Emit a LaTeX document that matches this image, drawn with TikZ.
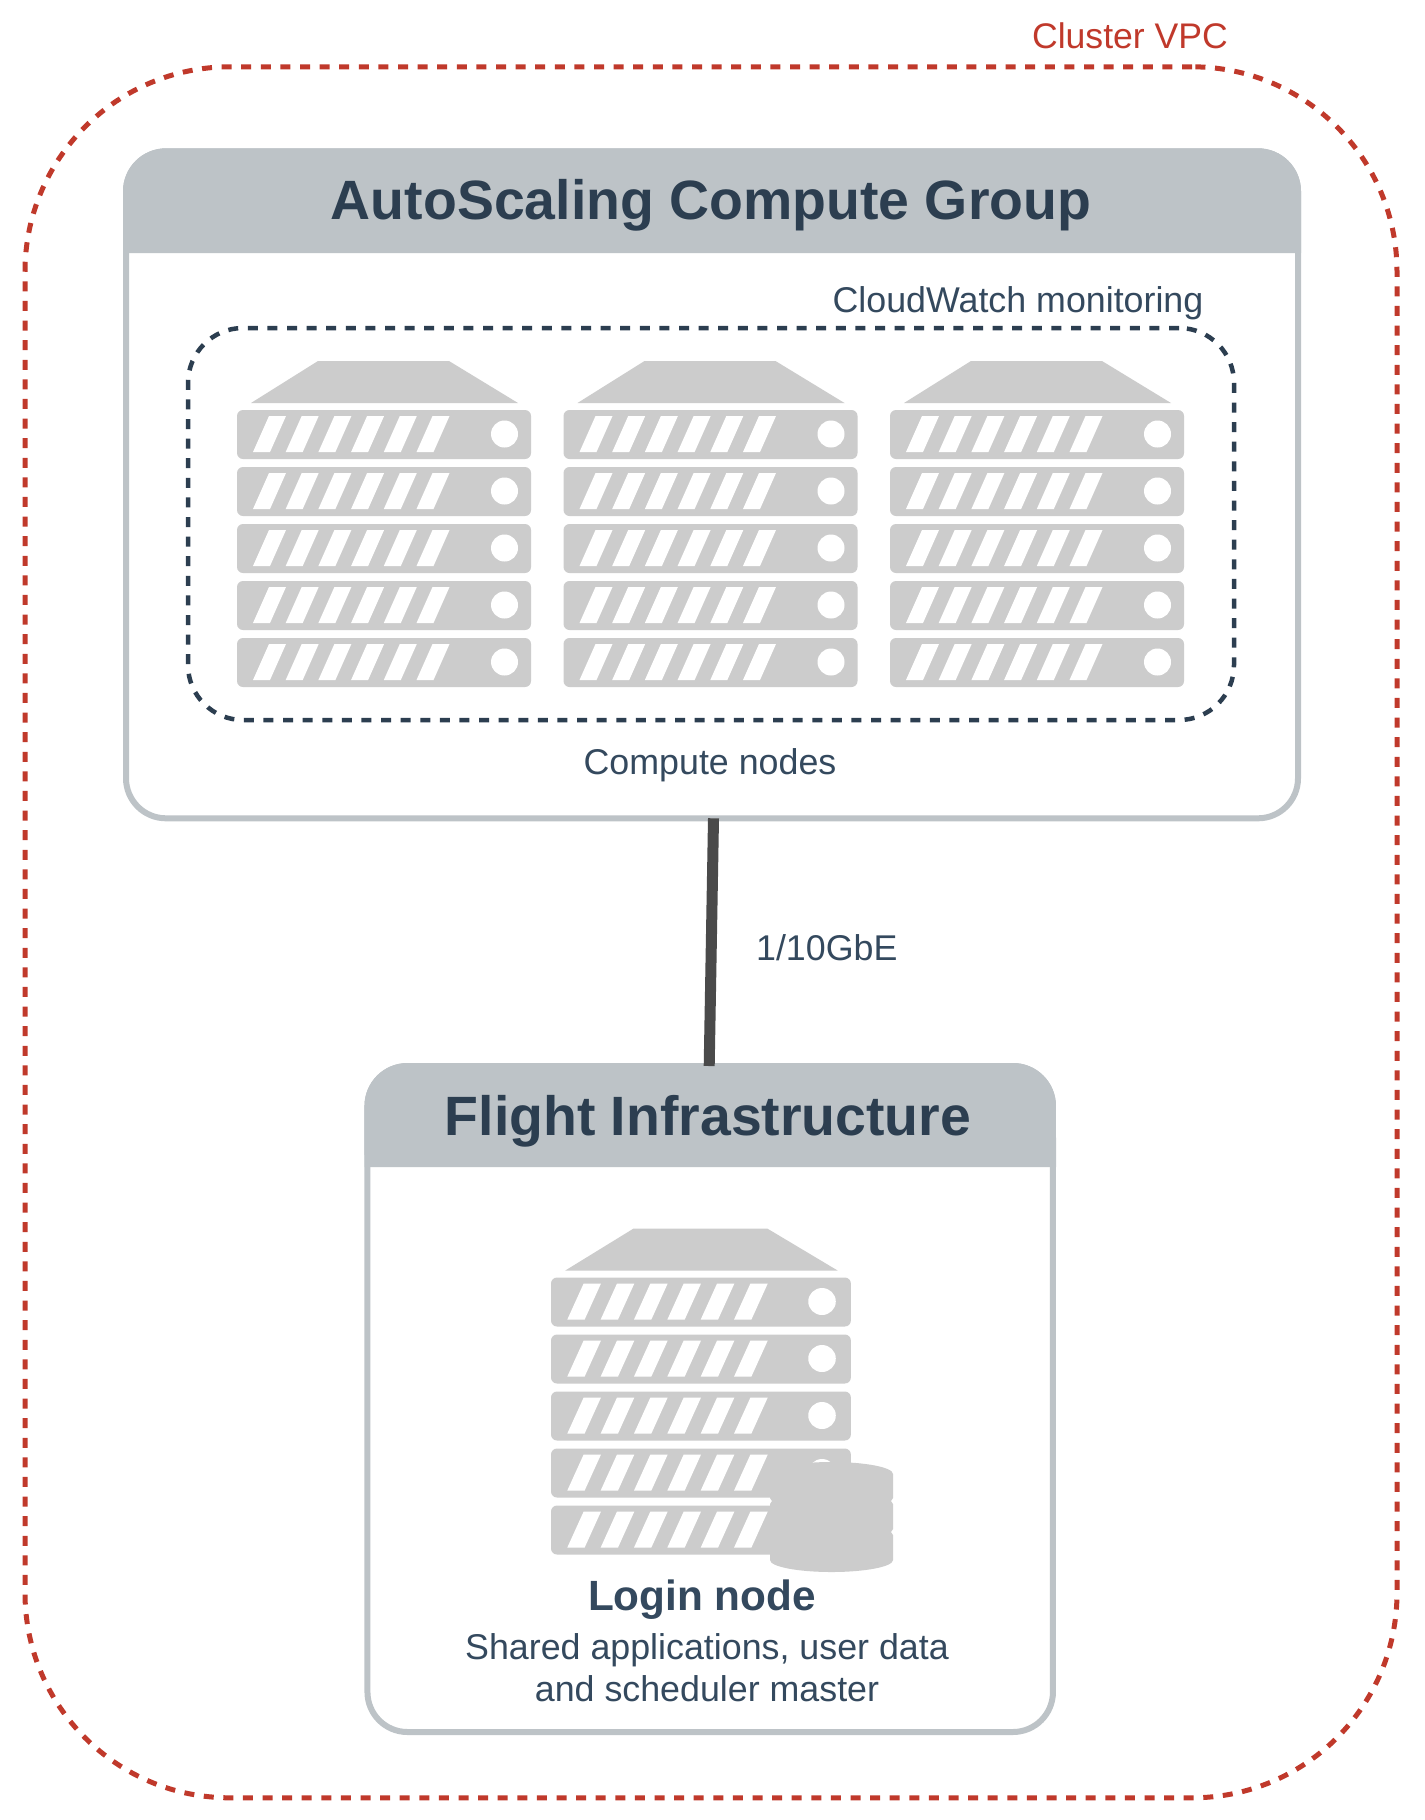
\documentclass[tikz,border=0pt]{standalone}
\usepackage{xcolor}
\usepackage{fontspec}
\setmainfont{Liberation Sans}
\usetikzlibrary{positioning, calc}

\definecolor{ink}{HTML}{2C3E50}
\definecolor{softink}{HTML}{34495E}
\definecolor{vpcred}{HTML}{C0392B}
\definecolor{panelgray}{HTML}{BDC3C7}
\definecolor{icongray}{HTML}{CCCCCC}
\definecolor{linkgray}{HTML}{4A4A4A}

\def\dotx{267.5}

\tikzset{
    serverrack/.pic={
        \fill[icongray] (14,42) -- (81,0) -- (212,0) -- (281,42) -- cycle;
        \foreach \row in {0,...,4} {
            \fill[icongray, rounded corners=6pt] (0,{49+57*\row}) rectangle (294,{98+57*\row});
            \fill[white] (\dotx,{73+57*\row}) circle [radius=13.5];
            \foreach \slat in {0,...,5} {
                \fill[white] ({16+32.7*\slat},{91+57*\row}) -- ({32+32.7*\slat},{55+57*\row})
                    -- ({49+32.7*\slat},{55+57*\row}) -- ({33+32.7*\slat},{91+57*\row}) -- cycle;
            }
        }
    },
    diskstack/.pic={
        \fill[icongray] (0,12) arc [start angle=180, end angle=360, x radius=61.5, y radius=12]
            -- (123,36) -- (121,39) -- (123,42) -- (123,67) -- (121,70) -- (123,73) -- (123,98)
            arc [start angle=0, end angle=180, x radius=61.5, y radius=12]
            -- (0,73) -- (2,70) -- (0,67) -- (0,42) -- (2,39) -- (0,36) -- cycle;
    }
}

\begin{document}
\begin{tikzpicture}[
    x=1pt, y=-1pt,
    panel/.style={draw=panelgray, line width=6pt, rounded corners=40pt, outer sep=0pt, inner sep=0pt, fill=white},
    header/.style={fill=panelgray, draw=panelgray, line width=6pt},
    titletext/.style={text=ink, font=\fontsize{55.4}{60}\selectfont\bfseries},
    plaintext/.style={text=softink, font=\fontsize{35.8}{40}\selectfont},
    link/.style={draw=linkgray, line width=11pt}
]
    \useasboundingbox (0,0) rectangle (1424,1820);

    % Cluster VPC
    \node[draw=vpcred, line width=5pt, dash pattern=on 10pt off 9.6pt, rounded corners=205pt,
        minimum width=1372pt, minimum height=1731pt, outer sep=0pt] (vpc) at (711,932.3) {};
    \node[text=vpcred, font=\fontsize{35.6}{40}\selectfont] (vpclabel) at (1130,36) {Cluster VPC};

    % Compute group
    \node[panel, minimum width=1172pt, minimum height=667pt] (group) at (712,484.8) {};
    \coordinate (groupleft) at (126,250);
    \coordinate (groupright) at (1298,250);
    \path[header] (groupleft) [rounded corners=40pt] -- (group.north west) -- (group.north east)
        [sharp corners] -- (groupright) -- cycle;
    \node[titletext] (grouptitle) at (711,205) {AutoScaling Compute Group};
    \node[plaintext] (cloudwatch) at (1018,303) {CloudWatch monitoring};
    \node[draw=ink, line width=4.5pt, dash pattern=on 10pt off 9.6pt, rounded corners=55pt,
        minimum width=1046pt, minimum height=392pt, outer sep=0pt] (computes) at (711,524) {};
    \foreach \rackx/\rackname in {237/racka, 563.5/rackb, 890/rackc} {
        \pic (\rackname) at (\rackx,361) {serverrack};
    }
    \node[plaintext] (computelabel) at (710,765) {Compute nodes};

    % Flight infrastructure
    \node[panel, minimum width=685.5pt, minimum height=666pt] (infra) at (710.2,1399) {};
    \coordinate (infraleft) at (367.5,1164);
    \coordinate (infraright) at (1053,1164);
    \path[header] (infraleft) [rounded corners=40pt] -- (infra.north west) -- (infra.north east)
        [sharp corners] -- (infraright) -- cycle;
    \node[titletext] (infratitle) at (708,1121) {Flight Infrastructure};
    \def\dotx{265.7}
    \pic[xscale=1.02] (login) at (551,1228.5) {serverrack};
    \pic (disks) at (770,1462) {diskstack};
    \node[text=softink, font=\fontsize{42.3}{46}\selectfont\bfseries] (loginlabel) at (702,1600) {Login node};
    \node[plaintext] (logindesc) at (707,1650) {Shared applications, user data};
    \node[plaintext] (logindesctwo) at (707,1689) {and scheduler master};

    % Connection
    \draw[link] ([xshift=1.5pt]group.south) -- node[pos=0.52, right=36pt, yshift=-1pt, plaintext] (linklabel) {1/10GbE} ([xshift=-1pt]infra.north);
\end{tikzpicture}
\end{document}
